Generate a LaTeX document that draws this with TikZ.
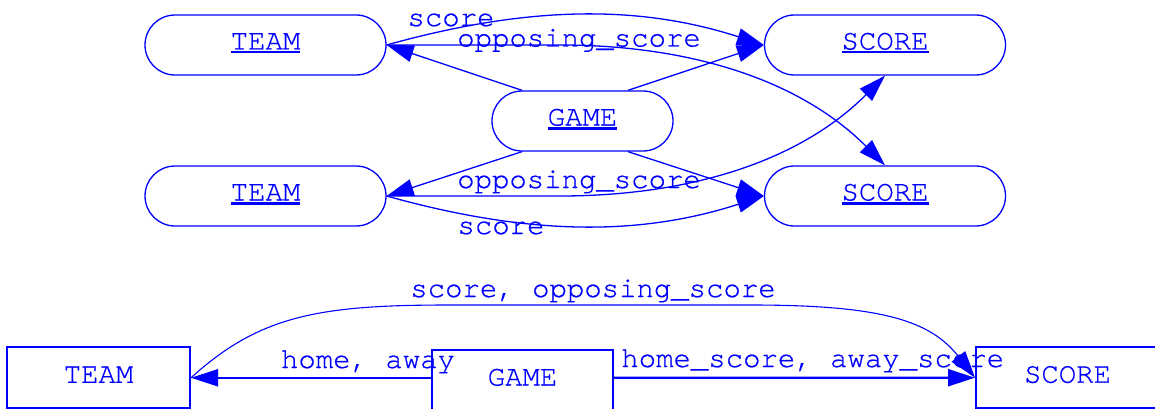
\documentclass[tikz,border=0pt]{standalone}
\usepackage{fontspec}
\setmonofont[FakeBold=0.6]{texgyrecursor-regular.otf}
\usetikzlibrary{arrows.meta}
\newsavebox\ulbox
\newcommand\ulx[1]{\sbox\ulbox{#1}\rlap{\rule[-4pt]{\wd\ulbox}{2.4pt}}\usebox\ulbox}
\begin{document}
\begin{tikzpicture}[x=1pt,y=-1pt,
  every node/.style={text=blue, font=\fontsize{29}{32}\selectfont\ttfamily},
  ent/.style={draw=blue, line width=1.3pt, rounded corners=30pt, minimum width=241pt,
    minimum height=60pt, inner sep=0pt, text height=16pt, text depth=7pt},
  tbl/.style={draw=blue, line width=2pt, minimum width=183pt, minimum height=61pt,
    inner sep=0pt, text height=16pt, text depth=6pt},
  lbl/.style={anchor=base, inner sep=0pt},
  tip/.style={-{Triangle[length=27pt,width=17pt]}},
  thin/.style={draw=blue, line width=1.3pt, tip},
  curv/.style={draw=blue, line width=1.1pt, tip},
  thick/.style={draw=blue, line width=2.2pt, tip}]
\useasboundingbox (0,0) rectangle (1155,409);
% top part
\node[ent] (team1) at (265.5,45) {\ulx{TEAM}};
\node[ent] (team2) at (265.5,196) {\ulx{TEAM}};
\node[ent] (score1) at (885,45) {\ulx{SCORE}};
\node[ent] (score2) at (885,196) {\ulx{SCORE}};
\node[ent, minimum width=181pt] (game1) at (582.5,121) {\ulx{GAME}};

\draw[thin] ([xshift=-60.5pt]game1.north) -- (team1.east);
\draw[thin] ([xshift=-60.5pt]game1.south) -- (team2.east);
\draw[thin] ([xshift=45.5pt]game1.north) -- (score1.west);
\draw[thin] ([xshift=45.5pt]game1.south) -- (score2.west);

\draw[thin] (team1.east) .. controls (530,5) and (640,5) .. (score1.west);
\draw[thin] (team1.east) -- (560,45) .. controls (690,45) and (800,80) .. (score2.north);
\draw[thin] (team2.east) -- (560,196) .. controls (690,196) and (800,161) .. (score1.south);
\draw[thin] (team2.east) .. controls (530,236) and (640,236) .. (score2.west);

\node[lbl] (l1) at (451,26) {score};
\node[lbl] (l2) at (579,46.5) {opposing\_score};
\node[lbl] (l3) at (579,188) {opposing\_score};
\node[lbl] (l4) at (501,234) {score};

% bottom part
\node[tbl] (team3) at (98.5,377.8) {TEAM};
\node[tbl, minimum width=181pt] (game2) at (522.5,380.5) {GAME};
\node[tbl] (score3) at (1067.5,377.7) {SCORE};

\draw[thick] (team3.east -| game2.west) -- (team3.east);
\draw[thick] (team3.east -| game2.east) -- (score3.west);
\draw[curv] (team3.east) .. controls (260,315) and (320,305) .. (450,305)
  -- (750,305) .. controls (880,305) and (930,320) .. (score3.west);

\node[lbl] (l5) at (593,297) {score, opposing\_score};
\node[lbl] (l6) at (368,368) {home, away};
\node[lbl] (l7) at (812.7,367) {home\_score, away\_score};
\end{tikzpicture}
\end{document}
